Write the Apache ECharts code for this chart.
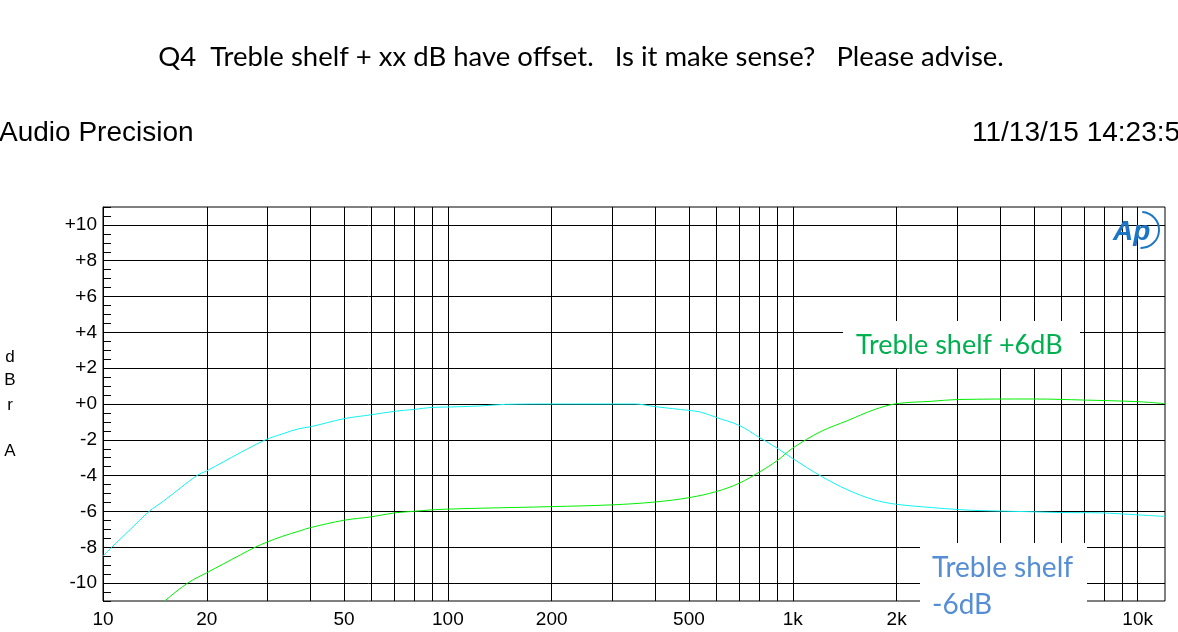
<!DOCTYPE html>
<html>
<head>
<meta charset="utf-8">
<script src="https://cdn.jsdelivr.net/npm/echarts@6/dist/echarts.min.js"></script>
<style>
  html, body { margin: 0; padding: 0; background: #fff; }
  #main { width: 1178px; height: 632px; }
</style>
</head>
<body>
<div id="main"></div>
<script>
// frequency response, Hz / dBr
let cyanFreq = [10, 10.6, 12, 13.6, 15, 18.7, 20, 25, 29.6, 33, 37, 40, 50, 60, 70, 80, 90, 100, 124, 147, 200, 348, 400, 500, 540, 600, 700, 800, 900, 1000, 1208, 1440, 1720, 2000, 2520, 3000, 3480, 5000, 6000, 7800, 10000, 12000];
let cyanDb = [-8.48, -8.0, -7.0, -6.0, -5.41, -4.0, -3.73, -2.72, -2.0, -1.68, -1.38, -1.27, -0.82, -0.6, -0.41, -0.3, -0.19, -0.17, -0.11, -0.02, 0, 0, -0.15, -0.36, -0.45, -0.75, -1.2, -1.87, -2.46, -3.05, -4.03, -4.79, -5.35, -5.6, -5.78, -5.89, -5.95, -6.02, -6.06, -6.08, -6.19, -6.28];

let greenFreq = [14, 15.1, 17.6, 20, 25, 27.6, 30, 33, 37, 40, 50, 60, 70, 80, 90, 100, 124, 200, 300, 400, 500, 600, 700, 800, 900, 1000, 1208, 1440, 1720, 2000, 2520, 3000, 5000, 7000, 10000, 12000];
let greenDb = [-11.6, -11.0, -10.0, -9.42, -8.43, -8.0, -7.7, -7.4, -7.1, -6.9, -6.49, -6.3, -6.08, -5.99, -5.91, -5.87, -5.82, -5.73, -5.63, -5.47, -5.23, -4.89, -4.42, -3.8, -3.17, -2.46, -1.53, -0.93, -0.32, 0.02, 0.15, 0.25, 0.28, 0.22, 0.13, 0.02];

// grid lines and tick labels
let gridFreq = [10, 20, 30, 40, 50, 60, 70, 80, 90, 100, 200, 300, 400, 500, 600, 700, 800, 900, 1000, 2000, 3000, 4000, 5000, 6000, 7000, 8000, 9000, 10000];
let labelFreq = [10, 20, 50, 100, 200, 500, 1000, 2000, 5000, 10000];
let labelText = ['10', '20', '50', '100', '200', '500', '1k', '2k', '5k', '10k'];
let gridDb = [-10, -8, -6, -4, -2, 0, 2, 4, 6, 8, 10];

let myChart = echarts.init(document.getElementById('main'));

let axisFont = 'Liberation Sans';

let vLines = gridFreq.map(function (f) {
  let k = labelFreq.indexOf(f);
  return {
    xAxis: f,
    label: k >= 0
      ? { show: true, position: 'start', formatter: labelText[k], color: '#000', fontSize: 19, fontFamily: axisFont, distance: 9 }
      : { show: false }
  };
});
let hLines = gridDb.map(function (v) {
  return { yAxis: v, label: { show: false } };
});

let option = {
  animation: false,
  grid: {
    left: 103,
    right: 13,
    top: 207,
    bottom: 31,
    show: true,
    borderColor: '#000',
    borderWidth: 1,
    backgroundColor: 'transparent'
  },
  xAxis: {
    type: 'log',
    logBase: 10,
    min: 10,
    max: 12000,
    axisLine: { show: false },
    axisTick: { show: false },
    axisLabel: { show: false },
    splitLine: { show: false }
  },
  yAxis: {
    type: 'value',
    min: -11,
    max: 11,
    interval: 1,
    axisLine: { show: true, lineStyle: { color: '#000', width: 1 } },
    axisTick: { show: true, inside: true, length: 8, lineStyle: { color: '#000' } },
    minorTick: { show: true, splitNumber: 2, length: 8, lineStyle: { color: '#000' } },
    axisLabel: {
      margin: 6,
      color: '#000',
      fontSize: 19,
      fontFamily: axisFont,
      formatter: function (v) {
        if (v % 2 !== 0) return '';
        return v >= 0 ? '+' + v : String(v);
      }
    },
    splitLine: { show: false }
  },
  series: [
    {
      name: 'grid',
      type: 'line',
      data: [],
      silent: true,
      markLine: {
        silent: true,
        symbol: 'none',
        animation: false,
        lineStyle: { color: '#000', width: 1, type: 'solid' },
        label: { show: false },
        data: vLines.concat(hLines)
      }
    },
    {
      name: 'Treble shelf -6dB',
      type: 'line',
      z: 5,
      showSymbol: false,
      smooth: 0.35,
      lineStyle: { color: '#10f2f2', width: 1 },
      data: cyanFreq.map(function (f, i) { return [f, cyanDb[i]]; })
    },
    {
      name: 'Treble shelf +6dB',
      type: 'line',
      z: 5,
      showSymbol: false,
      smooth: 0.35,
      lineStyle: { color: '#00ee00', width: 1 },
      data: greenFreq.map(function (f, i) { return [f, greenDb[i]]; })
    }
  ],
  graphic: [
    {
      type: 'text', z: 100,
      style: { text: 'Q4  Treble shelf + xx dB have offset.   Is it make sense?   Please advise.', x: 581, y: 57, fill: '#000', font: '27.5px Lato', textAlign: 'center', textVerticalAlign: 'middle' }
    },
    {
      type: 'text', z: 100,
      style: { text: 'Audio Precision', x: -1, y: 133, fill: '#000', font: '28px "Liberation Sans"', textAlign: 'left', textVerticalAlign: 'middle' }
    },
    {
      type: 'text', z: 100,
      style: { text: '11/13/15 14:23:5', x: 972, y: 133, fill: '#000', font: '28px "Liberation Sans"', textAlign: 'left', textVerticalAlign: 'middle' }
    },
    { type: 'text', z: 100, style: { text: 'd', x: 10, y: 357, fill: '#000', font: '17px "Liberation Sans"', textAlign: 'center', textVerticalAlign: 'middle' } },
    { type: 'text', z: 100, style: { text: 'B', x: 10, y: 380, fill: '#000', font: '17px "Liberation Sans"', textAlign: 'center', textVerticalAlign: 'middle' } },
    { type: 'text', z: 100, style: { text: 'r', x: 10, y: 405, fill: '#000', font: '17px "Liberation Sans"', textAlign: 'center', textVerticalAlign: 'middle' } },
    { type: 'text', z: 100, style: { text: 'A', x: 10, y: 451, fill: '#000', font: '17px "Liberation Sans"', textAlign: 'center', textVerticalAlign: 'middle' } },
    // label boxes
    { type: 'rect', z: 100, shape: { x: 843, y: 321, width: 237, height: 47 }, style: { fill: '#fff' } },
    {
      type: 'text', z: 101,
      style: { text: 'Treble shelf +6dB', x: 856, y: 345, fill: '#00b050', font: '27px Lato', textAlign: 'left', textVerticalAlign: 'middle' }
    },
    { type: 'rect', z: 100, shape: { x: 920, y: 543, width: 167, height: 89 }, style: { fill: '#fff' } },
    {
      type: 'text', z: 101,
      style: { text: 'Treble shelf', x: 932, y: 568, fill: '#558ed5', font: '28px Lato', textAlign: 'left', textVerticalAlign: 'middle' }
    },
    {
      type: 'text', z: 101,
      style: { text: '-6dB', x: 932, y: 605, fill: '#558ed5', font: '28px Lato', textAlign: 'left', textVerticalAlign: 'middle' }
    },
    // AP logo
    {
      type: 'text', z: 101,
      style: { text: 'Ap', x: 1113, y: 232, fill: '#1b75c4', font: 'italic bold 28px "Liberation Sans"', textAlign: 'left', textVerticalAlign: 'middle' }
    },
    {
      type: 'arc', z: 101,
      shape: { cx: 1141, cy: 230, r: 18, startAngle: -1.5, endAngle: 1.6, clockwise: true },
      style: { stroke: '#1b75c4', lineWidth: 2, fill: null }
    }
  ]
};
myChart.setOption(option);
</script>
</body>
</html>
